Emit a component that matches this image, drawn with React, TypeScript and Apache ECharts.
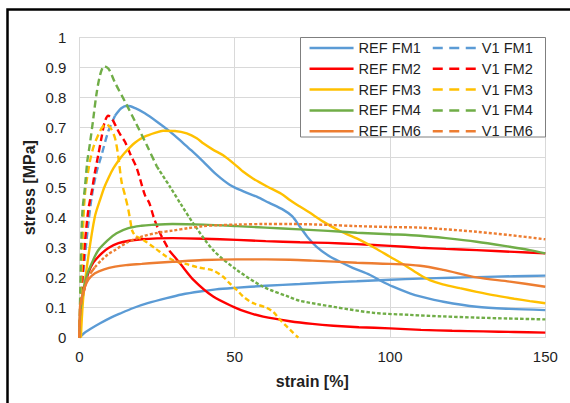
import React, { useEffect, useRef } from "react";
import * as echarts from "echarts";

const refNames = ["REF FM1", "REF FM2", "REF FM3", "REF FM4", "REF FM6"];
const v1Names = ["V1 FM1", "V1 FM2", "V1 FM3", "V1 FM4", "V1 FM6"];
const keys = ["FM1", "FM2", "FM3", "FM4", "FM6"];
const colors: Record<string, string> = {
  FM1: "#5B9BD5",
  FM2: "#FF0000",
  FM3: "#FFC000",
  FM4: "#70AD47",
  FM6: "#ED7D31",
};

const xTicks = [0, 50, 100, 150];
const yTicks = [0, 0.1, 0.2, 0.3, 0.4, 0.5, 0.6, 0.7, 0.8, 0.9, 1];

const refFM1 = [[0,0],[1.5,0.015],[3.4,0.028],[6.7,0.048],[10,0.066],[13,0.08],[17.4,0.099],[22,0.115],[28.1,0.132],[33,0.144],[38.8,0.154],[44,0.161],[50,0.166],[60,0.173],[71,0.179],[80,0.184],[89.3,0.188],[100,0.193],[109.7,0.197],[120,0.2],[127.9,0.202],[140,0.205],[150,0.207]];
const v1FM1 = [[0,0],[0.8,0.16],[1.8,0.27],[2.9,0.38],[4,0.47],[5.5,0.55],[7.2,0.61],[9.3,0.687],[11.5,0.74],[13.5,0.765],[15.5,0.773],[18,0.765],[21.1,0.748],[25,0.72],[29.2,0.687],[33.5,0.648],[36,0.625],[39.9,0.587],[44,0.545],[48.5,0.509],[53,0.487],[57.1,0.47],[61,0.45],[65.7,0.426],[68.5,0.405],[71,0.37],[73.5,0.335],[76.4,0.303],[80,0.275],[83.9,0.253],[88,0.233],[93.6,0.209],[97,0.19],[101,0.17],[106.4,0.148],[110,0.137],[117.2,0.12],[127.9,0.103],[138.6,0.096],[150,0.092]];
const refFM2 = [[0,0],[0.3,0.06],[0.76,0.115],[1.8,0.17],[2.9,0.215],[4.5,0.25],[7.2,0.281],[9.5,0.3],[12.6,0.315],[16,0.323],[20.1,0.328],[25,0.331],[30,0.332],[40,0.33],[50.7,0.326],[60,0.322],[71,0.318],[80,0.316],[89.3,0.312],[100,0.306],[109.7,0.3],[118,0.296],[127.9,0.292],[140,0.286],[150,0.281]];
const v1FM2 = [[0,0],[1,0.2],[1.8,0.315],[2.9,0.426],[4,0.487],[5,0.55],[6.1,0.609],[7.2,0.67],[8.2,0.72],[9.3,0.74],[10.5,0.73],[12,0.7],[13.3,0.675],[14.7,0.653],[16.5,0.61],[18.5,0.565],[21.1,0.476],[22.5,0.45],[24,0.4],[26,0.348],[29,0.29],[32.4,0.248],[37,0.19],[43.1,0.137],[49.6,0.103],[54,0.085],[59.2,0.07],[67.8,0.055],[75,0.046],[81.8,0.04],[90,0.035],[100,0.031],[110,0.026],[120,0.023],[130,0.021],[140,0.019],[150,0.017]];
const refFM3 = [[0.5,0],[1.3,0.137],[2.9,0.27],[5,0.403],[6.7,0.46],[8,0.5],[9.5,0.535],[11,0.565],[12.6,0.59],[14.5,0.615],[17.9,0.65],[21,0.67],[24.4,0.683],[27,0.69],[30.8,0.689],[34.6,0.681],[37.8,0.665],[40,0.647],[43,0.627],[46.3,0.608],[50.7,0.572],[52.8,0.553],[56,0.53],[60.3,0.505],[65,0.48],[68,0.457],[71,0.437],[74,0.418],[78.5,0.387],[84,0.355],[89.3,0.331],[95,0.3],[100,0.27],[105,0.24],[109.7,0.209],[112.8,0.192],[117,0.178],[122.5,0.165],[127.9,0.153],[133.2,0.142],[140,0.13],[145,0.122],[150,0.115]];
const v1FM3 = [[0,0],[1,0.3],[1.8,0.476],[3.4,0.587],[4.7,0.64],[6.1,0.676],[7.3,0.7],[8.5,0.712],[10,0.7],[11.5,0.665],[12.6,0.6],[13.6,0.52],[14.7,0.475],[15.8,0.426],[16.9,0.36],[18,0.34],[20.6,0.326],[24.4,0.298],[28.1,0.27],[31,0.255],[34.6,0.245],[38,0.235],[43.1,0.224],[46.3,0.203],[48.5,0.18],[50.7,0.159],[53,0.135],[56,0.115],[60.3,0.1],[62.5,0.085],[64.6,0.06],[66.5,0.04],[67.8,0.027],[70.5,0]];
const refFM4 = [[0,0],[0.23,0.07],[0.7,0.12],[1.3,0.159],[2.5,0.21],[4,0.248],[6,0.29],[9.3,0.326],[12,0.348],[15.8,0.365],[20,0.373],[23.3,0.376],[30,0.379],[40,0.377],[50.7,0.372],[60,0.367],[71,0.361],[80,0.356],[89.3,0.35],[100,0.345],[109.7,0.34],[118,0.332],[127.9,0.32],[138.6,0.303],[145,0.292],[150,0.281]];
const v1FM4 = [[0,0],[0.3,0.15],[0.6,0.3],[1,0.42],[1.8,0.5],[2.6,0.59],[3.4,0.645],[4.5,0.73],[5.5,0.81],[6.7,0.876],[8,0.905],[9.5,0.895],[11.5,0.85],[14.7,0.787],[18,0.72],[21.7,0.642],[25,0.57],[29.2,0.503],[33,0.44],[36.7,0.381],[43.1,0.292],[50.7,0.226],[59.2,0.17],[67.8,0.135],[71,0.123],[81.8,0.103],[94.6,0.083],[106.4,0.076],[117,0.071],[127.9,0.067],[138,0.064],[150,0.061]];
const refFM6 = [[0,0],[0.23,0.103],[0.8,0.135],[1.8,0.17],[3,0.195],[5.05,0.215],[8,0.228],[11.5,0.237],[15,0.242],[20.1,0.246],[25,0.25],[30,0.253],[39.9,0.259],[50.7,0.261],[60,0.261],[67.8,0.26],[75,0.257],[89.3,0.25],[100,0.246],[109.7,0.24],[117.2,0.226],[127.9,0.201],[138.6,0.187],[150,0.17]];
const v1FM6 = [[0,0],[0.3,0.08],[0.76,0.126],[1.8,0.17],[2.9,0.203],[5,0.235],[7.2,0.259],[9.5,0.28],[11.5,0.292],[15,0.315],[20.1,0.337],[25.4,0.35],[30,0.357],[35,0.365],[39.9,0.372],[45,0.375],[50.7,0.377],[60,0.379],[67.8,0.379],[80,0.376],[89.3,0.372],[100,0.369],[109.7,0.367],[117,0.362],[127.9,0.353],[138.6,0.342],[150,0.328]];

const refData: Record<string, number[][]> = { FM1: refFM1, FM2: refFM2, FM3: refFM3, FM4: refFM4, FM6: refFM6 };
const v1Data: Record<string, number[][]> = { FM1: v1FM1, FM2: v1FM2, FM3: v1FM3, FM4: v1FM4, FM6: v1FM6 };

// where the long-dash part of each V1 curve turns into the denser tail (strain %)
const v1Split: Record<string, number> = { FM1: 11.5, FM2: 29, FM3: 16.9, FM4: 27, FM6: 5 };
const v1TailDash: Record<string, any> = { FM1: "solid", FM2: "solid", FM3: [5, 3], FM4: [3.5, 2], FM6: [3, 2] };

const FONT = "'Liberation Sans', Arial, sans-serif";
const TEXT = "#1f1f1f";

function splitAt(arr: number[][], x: number) {
  const head = arr.filter((p) => p[0] <= x);
  const tail = arr.filter((p) => p[0] >= head[head.length - 1][0]);
  return [head, tail];
}

export default function App() {
  const ref = useRef<HTMLDivElement>(null);
  useEffect(() => {
    if (!ref.current) return;
    const chart = echarts.init(ref.current, undefined, { renderer: "svg" });
    const legendBase = {
      orient: "vertical" as const,
      top: 40.5,
      itemWidth: 44,
      itemHeight: 14,
      itemGap: 5.8,
      selectedMode: false,
      itemStyle: { opacity: 0 },
      textStyle: { fontSize: 14.6, color: TEXT, fontFamily: FONT },
      padding: 0,
    };
    const series: any[] = [];
    keys.forEach((k) => {
      const c = colors[k];
      const common = {
        type: "line",
        symbol: "none",
        showSymbol: false,
        smooth: 0.3,
        color: c,
        z: 2,
      };
      series.push({ ...common, name: "REF " + k, data: refData[k], lineStyle: { color: c, width: 2.4, type: "solid" } });
      const [head, tail] = splitAt(v1Data[k], v1Split[k]);
      series.push({ ...common, name: "V1 " + k, data: head, lineStyle: { color: c, width: 2.4, type: [7, 4], cap: "butt" } });
      series.push({ ...common, name: "V1 " + k, data: tail, lineStyle: { color: c, width: 2.4, type: v1TailDash[k], cap: "butt" } });
    });
    chart.setOption({
      animation: false,
      backgroundColor: "#ffffff",
      grid: { left: 79.3, top: 37.7, width: 466, height: 300 },
      xAxis: {
        type: "value",
        min: xTicks[0],
        max: xTicks[xTicks.length - 1],
        interval: 50,
        axisLine: { show: true, lineStyle: { color: "#d9d9d9", width: 1 } },
        axisTick: { show: false },
        axisLabel: { fontSize: 15, color: TEXT, fontFamily: FONT, margin: 11 },
        splitLine: { show: true, lineStyle: { color: "#d9d9d9", width: 1 } },
      },
      yAxis: {
        type: "value",
        min: yTicks[0],
        max: yTicks[yTicks.length - 1],
        interval: 0.1,
        axisLine: { show: true, lineStyle: { color: "#d9d9d9", width: 1 } },
        axisTick: { show: false },
        axisLabel: { fontSize: 15, color: TEXT, fontFamily: FONT, margin: 13 },
        splitLine: { show: true, lineStyle: { color: "#d9d9d9", width: 1 } },
      },
      legend: [
        { ...legendBase, left: 308.3, data: refNames, lineStyle: { width: 2.5, type: "solid" } },
        { ...legendBase, left: 431.5, data: v1Names, lineStyle: { width: 2.5, type: [10, 6.5] } },
      ],
      graphic: [
        {
          type: "rect",
          z: 3,
          shape: { x: 300.5, y: 37.5, width: 245, height: 99.5 },
          style: { fill: "#ffffff", stroke: "#7f7f7f", lineWidth: 1 },
        },
        {
          type: "rect",
          z: 10,
          silent: true,
          shape: { x: 7.5, y: 9.5, width: 700, height: 700 },
          style: { fill: "none", stroke: "#000000", lineWidth: 2.5 },
        },
        {
          type: "text",
          z: 10,
          x: 312.3,
          y: 381,
          style: { text: "strain [%]", fontSize: 16, fontWeight: "bold", fontFamily: FONT, fill: TEXT, align: "center", verticalAlign: "middle" },
        },
        {
          type: "text",
          z: 10,
          x: 29,
          y: 187.7,
          rotation: Math.PI / 2,
          style: { text: "stress [MPa]", fontSize: 16, fontWeight: "bold", fontFamily: FONT, fill: TEXT, align: "center", verticalAlign: "middle" },
        },
      ],
      series,
    });
    return () => chart.dispose();
  }, []);
  return <div ref={ref} style={{ position: "absolute", left: 0, top: 0, width: 570, height: 403, background: "#fff" }} />;
}
